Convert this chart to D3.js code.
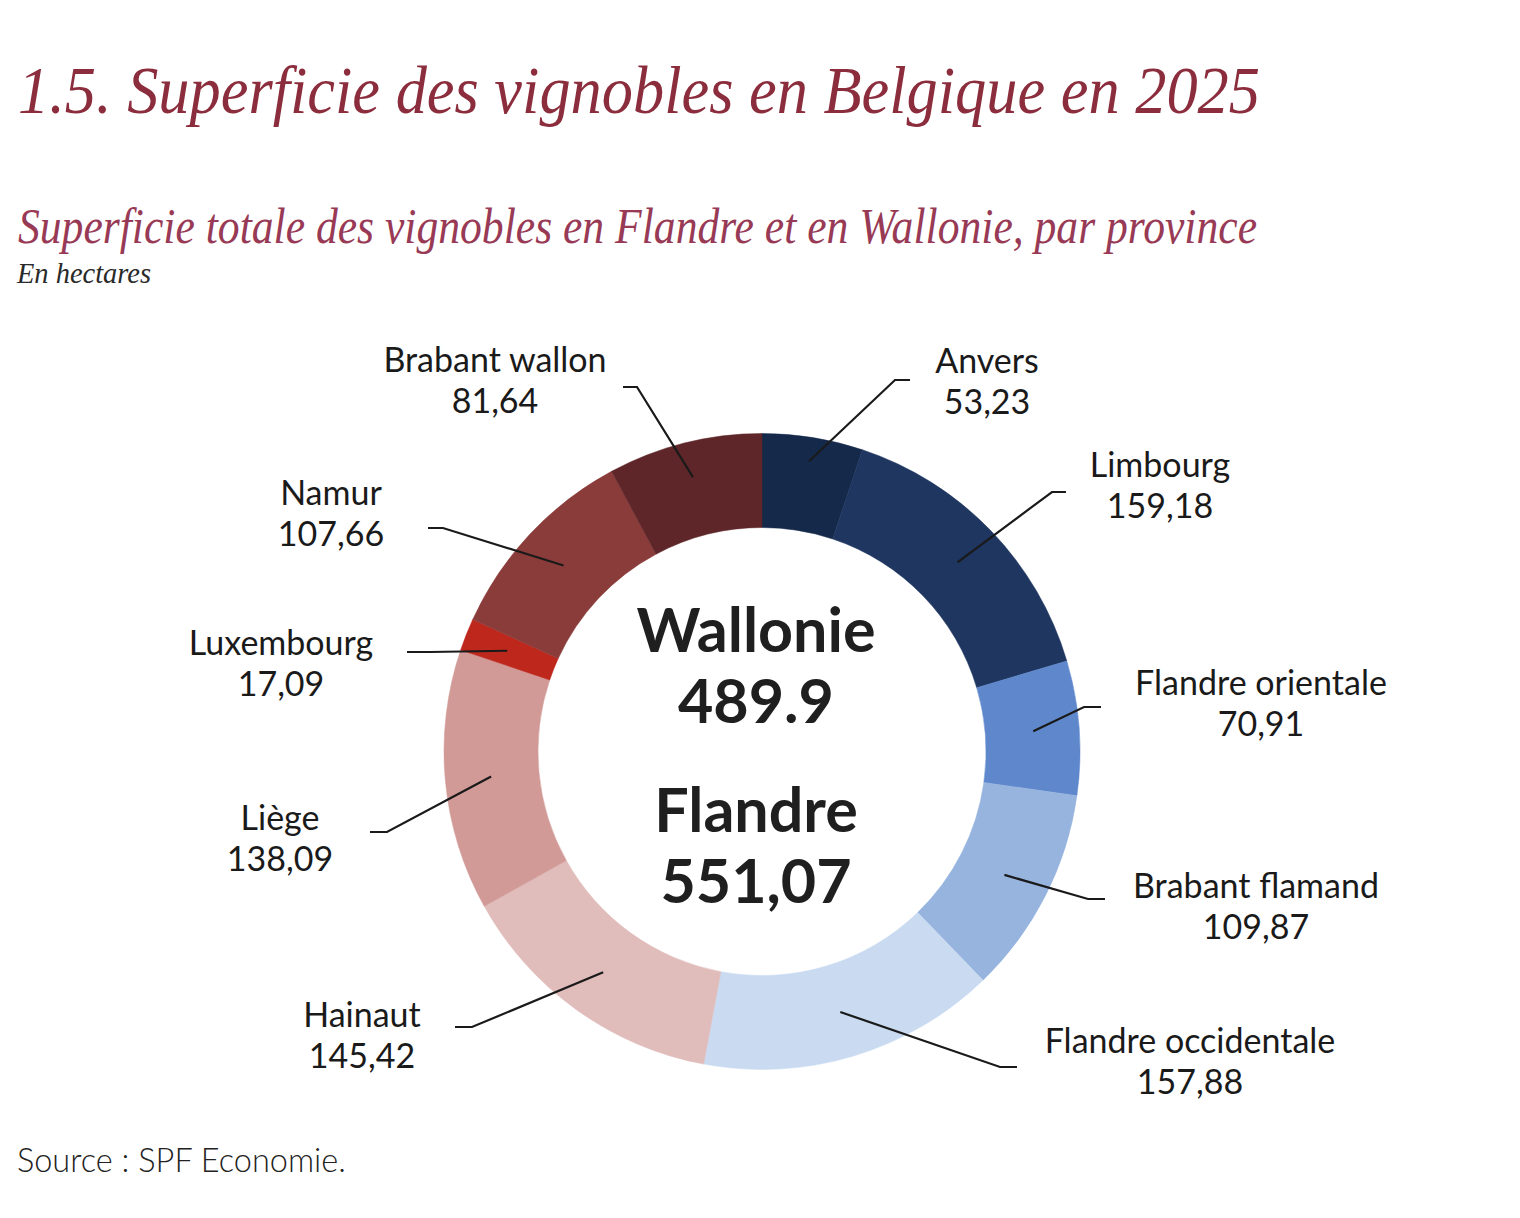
<!DOCTYPE html>
<html>
<head>
<meta charset="utf-8">
<script src="https://cdn.jsdelivr.net/npm/d3@7"></script>
<style>
  html, body { margin: 0; padding: 0; background: #ffffff; }
  svg { display: block; }
</style>
</head>
<body>
<svg id="chart" width="1520" height="1218"></svg>
<script>
// ---- Data ----
const provinces = ["Anvers", "Limbourg", "Flandre orientale", "Brabant flamand", "Flandre occidentale",
                   "Hainaut", "Liège", "Luxembourg", "Namur", "Brabant wallon"];
const values = [53.23, 159.18, 70.91, 109.87, 157.88, 145.42, 138.09, 17.09, 107.66, 81.64];
const regions = ["Flandre", "Flandre", "Flandre", "Flandre", "Flandre",
                 "Wallonie", "Wallonie", "Wallonie", "Wallonie", "Wallonie"];
const centerRegions = ["Wallonie", "Flandre"];

const titleText = "1.5. Superficie des vignobles en Belgique en 2025";
const subtitleText = "Superficie totale des vignobles en Flandre et en Wallonie, par province";
const unitText = "En hectares";
const sourceText = "Source : SPF Economie.";

// ---- Styles ----
const sliceColors = ["#15294b", "#1f3660", "#5f88cc", "#97b4df", "#c9daf1",
                     "#e0bcbb", "#d19a97", "#be271c", "#8a3c3a", "#5e2628"];

// ---- Label layout (annotation placement) ----
const labelLayout = [
  { tx: 987,  ty: 373,  ex: 895,  ey: 380,  endx: 910,  r: 294 },
  { tx: 1160, ty: 477,  ex: 1052, ey: 492,  endx: 1066, r: 272 },
  { tx: 1261, ty: 695,  ex: 1084, ey: 707,  endx: 1101, r: 272 },
  { tx: 1256, ty: 898,  ex: 1088, ey: 899,  endx: 1105, r: 272 },
  { tx: 1190, ty: 1053, ex: 1000, ey: 1067, endx: 1017, r: 272 },
  { tx: 362,  ty: 1027, ex: 472,  ey: 1027, endx: 455,  r: 272 },
  { tx: 280,  ty: 830,  ex: 387,  ey: 832,  endx: 370,  r: 272 },
  { tx: 281,  ty: 655,  ex: 430,  ey: 652,  endx: 407,  r: 274 },
  { tx: 331,  ty: 505,  ex: 443,  ey: 528,  endx: 428,  r: 272 },
  { tx: 495,  ty: 372,  ex: 637,  ey: 387,  endx: 623,  r: 283 }
];

const svg = d3.select("#chart");
const cx = 762, cy = 751.5;
const outerR = 318, innerR = 224;

const data = provinces.map((p, i) => ({ name: p, value: values[i], region: regions[i], i }));

// ---- Titles ----
svg.append("text")
  .attr("x", 18).attr("y", 113)
  .attr("font-family", "'Liberation Serif', 'DejaVu Serif', serif")
  .attr("font-style", "italic")
  .attr("font-size", 68)
  .attr("fill", "#8b2d3c")
  .attr("textLength", 1242).attr("lengthAdjust", "spacingAndGlyphs")
  .text(titleText);

svg.append("text")
  .attr("x", 18).attr("y", 243)
  .attr("font-family", "'Liberation Serif', 'DejaVu Serif', serif")
  .attr("font-style", "italic")
  .attr("font-size", 50)
  .attr("fill", "#983a55")
  .attr("textLength", 1239).attr("lengthAdjust", "spacingAndGlyphs")
  .text(subtitleText);

svg.append("text")
  .attr("x", 17).attr("y", 283)
  .attr("font-family", "'Liberation Serif', 'DejaVu Serif', serif")
  .attr("font-style", "italic")
  .attr("font-size", 30)
  .attr("fill", "#2a2a2a")
  .attr("textLength", 134).attr("lengthAdjust", "spacingAndGlyphs")
  .text(unitText);

svg.append("text")
  .attr("x", 17).attr("y", 1172)
  .attr("font-family", "Lato, 'Open Sans', sans-serif")
  .attr("font-weight", 300)
  .attr("font-size", 32.5)
  .attr("fill", "#222")
  .text(sourceText);

// ---- Donut ----
const pie = d3.pie().sort(null).value(d => d.value).startAngle(0).endAngle(2 * Math.PI);
const arcs = pie(data);
const arc = d3.arc().innerRadius(innerR).outerRadius(outerR);

const g = svg.append("g").attr("transform", `translate(${cx},${cy})`);
g.selectAll("path.slice")
  .data(arcs)
  .join("path")
  .attr("class", "slice")
  .attr("d", arc)
  .attr("fill", d => sliceColors[d.data.i])
  .attr("stroke", d => sliceColors[d.data.i])
  .attr("stroke-width", 0.5);

// ---- Leader lines ----
const fmtComma = v => d3.format(".2f")(v).replace(".", ",");
const lineGen = d3.line();
arcs.forEach(a => {
  const L = labelLayout[a.data.i];
  const mid = (a.startAngle + a.endAngle) / 2;
  const px = cx + L.r * Math.sin(mid);
  const py = cy - L.r * Math.cos(mid);
  svg.append("path")
    .attr("d", lineGen([[px, py], [L.ex, L.ey], [L.endx, L.ey]]))
    .attr("fill", "none")
    .attr("stroke", "#1a1a1a")
    .attr("stroke-width", 2.2);
  const t = svg.append("text")
    .attr("text-anchor", "middle")
    .attr("font-family", "Lato, 'Open Sans', sans-serif")
    .attr("font-size", 34)
    .attr("fill", "#1a1a1a");
  t.append("tspan").attr("x", L.tx).attr("y", L.ty).text(a.data.name);
  t.append("tspan").attr("x", L.tx).attr("y", L.ty + 41).text(fmtComma(a.data.value));
});

// ---- Center totals ----
const totals = centerRegions.map(r => d3.sum(data.filter(d => d.region === r), d => d.value));
const centerFmt = [v => d3.format(".1f")(v), v => fmtComma(v)];
const centerY = [[652, 723], [832, 903]];
centerRegions.forEach((r, k) => {
  const t = svg.append("text")
    .attr("text-anchor", "middle")
    .attr("font-family", "Lato, 'Open Sans', sans-serif")
    .attr("font-weight", 700)
    .attr("font-size", 61)
    .attr("fill", "#1f1f1f");
  t.append("tspan").attr("x", 756).attr("y", centerY[k][0]).text(r);
  t.append("tspan").attr("x", 756).attr("y", centerY[k][1]).text(centerFmt[k](totals[k]));
});
</script>
</body>
</html>
